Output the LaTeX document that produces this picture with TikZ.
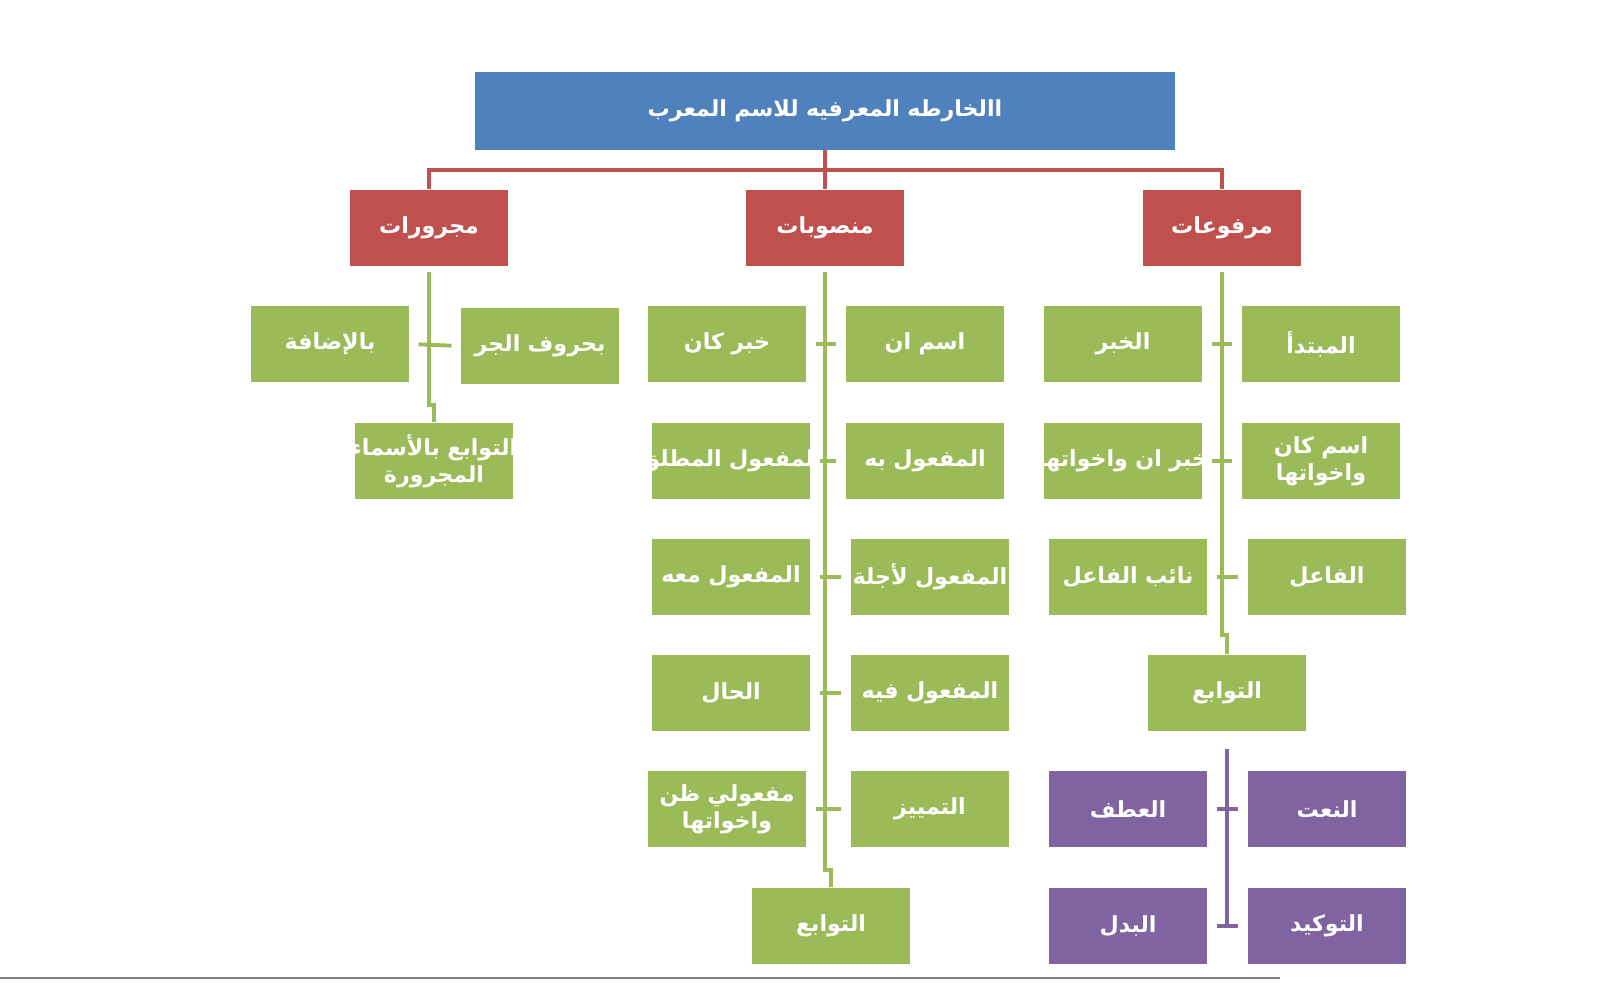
\documentclass[tikz,border=0pt]{standalone}
\usepackage{fontspec}
\newfontfamily\arabicfont[Script=Arabic]{DejaVu Sans}
\TeXXeTstate=1
\usetikzlibrary{positioning}
\definecolor{titleblue}{HTML}{4F81BD}
\definecolor{headred}{HTML}{C0504D}
\definecolor{leafgreen}{HTML}{9BBB59}
\definecolor{leafpurple}{HTML}{8064A2}
\newcommand{\ar}[1]{\makebox[0pt]{\beginR #1\endR}}
\begin{document}
\begin{tikzpicture}[
            x = 0.01cm, y = -0.01cm, % pixel grid
            box/.style = {rectangle, minimum width=1.58cm, minimum height=0.76cm,
                          text width=1.5cm, inner sep=0pt, text=white, align=center,
                          font=\arabicfont\bfseries\fontsize{6.3}{7.6}\selectfont},
            leaf/.style = {box, fill=leafgreen},
            pleaf/.style = {box, fill=leafpurple},
            head/.style = {box, fill=headred},
            gline/.style = {leafgreen, line width=1.1pt},
            pline/.style = {leafpurple, line width=1.1pt},
            cross/.style = {shorten <=2.5pt, shorten >=2.5pt}
        ]
\useasboundingbox (0,0) rectangle (1600,1000);
\draw[gray, line width=0.4pt] (0,978) -- (1280,978);

\node[box, fill=titleblue, minimum width=6.99cm, text width=6.8cm, minimum height=0.77cm] (T) at (825,111) {\ar{االخارطه المعرفيه للاسم المعرب}};

\node[head] (J) at (429,228) {\ar{مجرورات}};
\node[head] (N) at (825,228) {\ar{منصوبات}};
\node[head] (R) at (1222,228) {\ar{مرفوعات}};

\coordinate (mid) at (825,170);
\draw[headred, line width=1.1pt] (T.south) -- (mid) -- (N.north);
\draw[headred, line width=1.1pt] (J.north) -- (J.north |- mid) -- (R.north |- mid) -- (R.north);

% majrurat
\node[leaf] (J1) at (330,344) {\ar{بالإضافة}};
\node[leaf] (J2) at (540,346) {\ar{بحروف الجر}};
\node[leaf] (J3) at (434,461) {\ar{التوابع بالأسماء}\\\ar{المجرورة}};
\draw[gline] (429,272) -- (429,405) -- (434,405) -- (J3.north);
\draw[gline, cross] (J1.east) -- (J2.west);

% mansubat
\node[leaf] (N1) at (727,344) {\ar{خبر كان}};
\node[leaf] (N2) at (925,344) {\ar{اسم ان}};
\node[leaf] (N3) at (731,461) {\ar{المفعول المطلق}};
\node[leaf] (N4) at (925,461) {\ar{المفعول به}};
\node[leaf] (N5) at (731,577) {\ar{المفعول معه}};
\node[leaf] (N6) at (930,577) {\ar{المفعول لأجلة}};
\node[leaf] (N7) at (731,693) {\ar{الحال}};
\node[leaf] (N8) at (930,693) {\ar{المفعول فيه}};
\node[leaf] (N9) at (727,809) {\ar{مفعولي ظن}\\\ar{واخواتها}};
\node[leaf] (N10) at (930,809) {\ar{التمييز}};
\node[leaf] (N11) at (831,926) {\ar{التوابع}};
\draw[gline] (825,272) -- (825,870) -- (831,870) -- (N11.north);
\foreach \a/\b in {N1/N2,N3/N4,N5/N6,N7/N8,N9/N10}
  \draw[gline, cross] (\a.east) -- (\b.west);

% marfuat
\node[leaf] (R1) at (1123,344) {\ar{الخبر}};
\node[leaf] (R2) at (1321,344) {\ar{المبتدأ}};
\node[leaf] (R3) at (1123,461) {\ar{خبر ان واخواتها}};
\node[leaf] (R4) at (1321,461) {\ar{اسم كان}\\\ar{واخواتها}};
\node[leaf] (R5) at (1128,577) {\ar{نائب الفاعل}};
\node[leaf] (R6) at (1327,577) {\ar{الفاعل}};
\node[leaf] (R7) at (1227,693) {\ar{التوابع}};
\draw[gline] (1222,272) -- (1222,635) -- (1227,635) -- (R7.north);
\foreach \a/\b in {R1/R2,R3/R4,R5/R6}
  \draw[gline, cross] (\a.east) -- (\b.west);

% tawabi
\node[pleaf] (P1) at (1128,809) {\ar{العطف}};
\node[pleaf] (P2) at (1327,809) {\ar{النعت}};
\node[pleaf] (P3) at (1128,926) {\ar{البدل}};
\node[pleaf] (P4) at (1327,926) {\ar{التوكيد}};
\draw[pline, shorten <=5pt] (R7.south) -- (1227,927);
\foreach \a/\b in {P1/P2,P3/P4}
  \draw[pline, cross] (\a.east) -- (\b.west);
\end{tikzpicture}
\end{document}
